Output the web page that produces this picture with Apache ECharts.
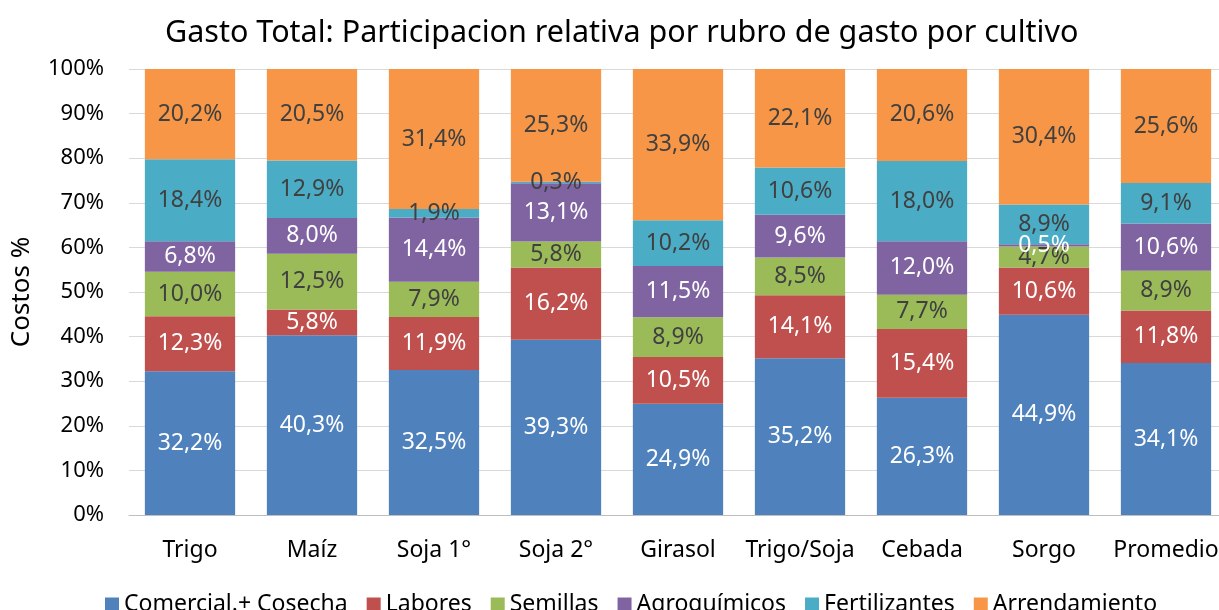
<!DOCTYPE html>
<html>
<head>
<meta charset="utf-8">
<script src="https://cdn.jsdelivr.net/npm/echarts@6/dist/echarts.min.js"></script>
<style>
  html, body { margin: 0; padding: 0; background: #fff; }
  #chart { width: 1219px; height: 610px; }
</style>
</head>
<body>
<div id="chart"></div>
<script>
// datos por cultivo (porcentaje de participacion)
var cultivos = ["Trigo", "Maíz", "Soja 1°", "Soja 2°", "Girasol", "Trigo/Soja", "Cebada", "Sorgo", "Promedio"];
var comercial = [32.2, 40.3, 32.5, 39.3, 24.9, 35.2, 26.3, 44.9, 34.1];
var labores = [12.3, 5.8, 11.9, 16.2, 10.5, 14.1, 15.4, 10.6, 11.8];
var semillas = [10.0, 12.5, 7.9, 5.8, 8.9, 8.5, 7.7, 4.7, 8.9];
var agroquimicos = [6.8, 8.0, 14.4, 13.1, 11.5, 9.6, 12.0, 0.5, 10.6];
var fertilizantes = [18.4, 12.9, 1.9, 0.3, 10.2, 10.6, 18.0, 8.9, 9.1];
var arrendamiento = [20.2, 20.5, 31.4, 25.3, 33.9, 22.1, 20.6, 30.4, 25.6];
var yTicks = [0, 10, 20, 30, 40, 50, 60, 70, 80, 90, 100];

var rubros = [
  { name: "Comercial.+ Cosecha", data: comercial, color: "#4F81BD", label: "#ffffff" },
  { name: "Labores", data: labores, color: "#C0504D", label: "#ffffff" },
  { name: "Semillas", data: semillas, color: "#9BBB59", label: "#404040" },
  { name: "Agroquímicos", data: agroquimicos, color: "#8064A2", label: "#ffffff" },
  { name: "Fertilizantes", data: fertilizantes, color: "#4BACC6", label: "#404040" },
  { name: "Arrendamiento", data: arrendamiento, color: "#F79646", label: "#404040" }
];

// total por cultivo para apilar al 100%
var totales = cultivos.map(function (c, i) {
  var s = 0;
  rubros.forEach(function (r) { s += r.data[i]; });
  return s;
});

var fuente = "Noto Sans";
var chart = echarts.init(document.getElementById("chart"));

var option = {
  animation: false,
  textStyle: { fontFamily: fuente },
  title: {
    text: "Gasto Total: Participacion relativa por rubro de gasto por cultivo",
    left: 160,
    top: 13,
    textStyle: { fontFamily: fuente, fontSize: 30.5, fontWeight: "normal", color: "#000" }
  },
  legend: {
    bottom: -11,
    left: 100,
    itemWidth: 14,
    itemHeight: 14,
    itemGap: 19,
    icon: "rect",
    textStyle: { fontFamily: fuente, fontSize: 23, color: "#000" },
    data: rubros.map(function (r) { return r.name; })
  },
  grid: { left: 129, right: -8, top: 69, bottom: 95, outerBoundsMode: "none", containLabel: false },
  xAxis: {
    type: "category",
    data: cultivos,
    axisTick: { show: false },
    axisLine: { lineStyle: { color: "#bfbfbf" } },
    axisLabel: { fontFamily: fuente, fontSize: 23, color: "#000", margin: 24, interval: 0 }
  },
  yAxis: {
    type: "value",
    min: 0,
    max: 100,
    interval: 10,
    name: "Costos %",
    nameLocation: "middle",
    nameGap: 94,
    nameTextStyle: { fontFamily: fuente, fontSize: 26, color: "#000" },
    axisLabel: {
      fontFamily: fuente, fontSize: 22, color: "#000", margin: 25,
      formatter: function (v) { return yTicks.indexOf(v) >= 0 ? v + "%" : ""; }
    },
    splitLine: { lineStyle: { color: "#d9d9d9" } }
  },
  series: rubros.map(function (r) {
    return {
      name: r.name,
      type: "bar",
      stack: "total",
      barWidth: "74%",
      itemStyle: { color: r.color },
      label: {
        show: true,
        position: "inside",
        fontFamily: fuente,
        fontSize: 23,
        color: r.label,
        formatter: function (p) { return r.data[p.dataIndex].toFixed(1).replace(".", ",") + "%"; }
      },
      data: r.data.map(function (v, i) { return v / totales[i] * 100; })
    };
  })
};

chart.setOption(option);
</script>
</body>
</html>
